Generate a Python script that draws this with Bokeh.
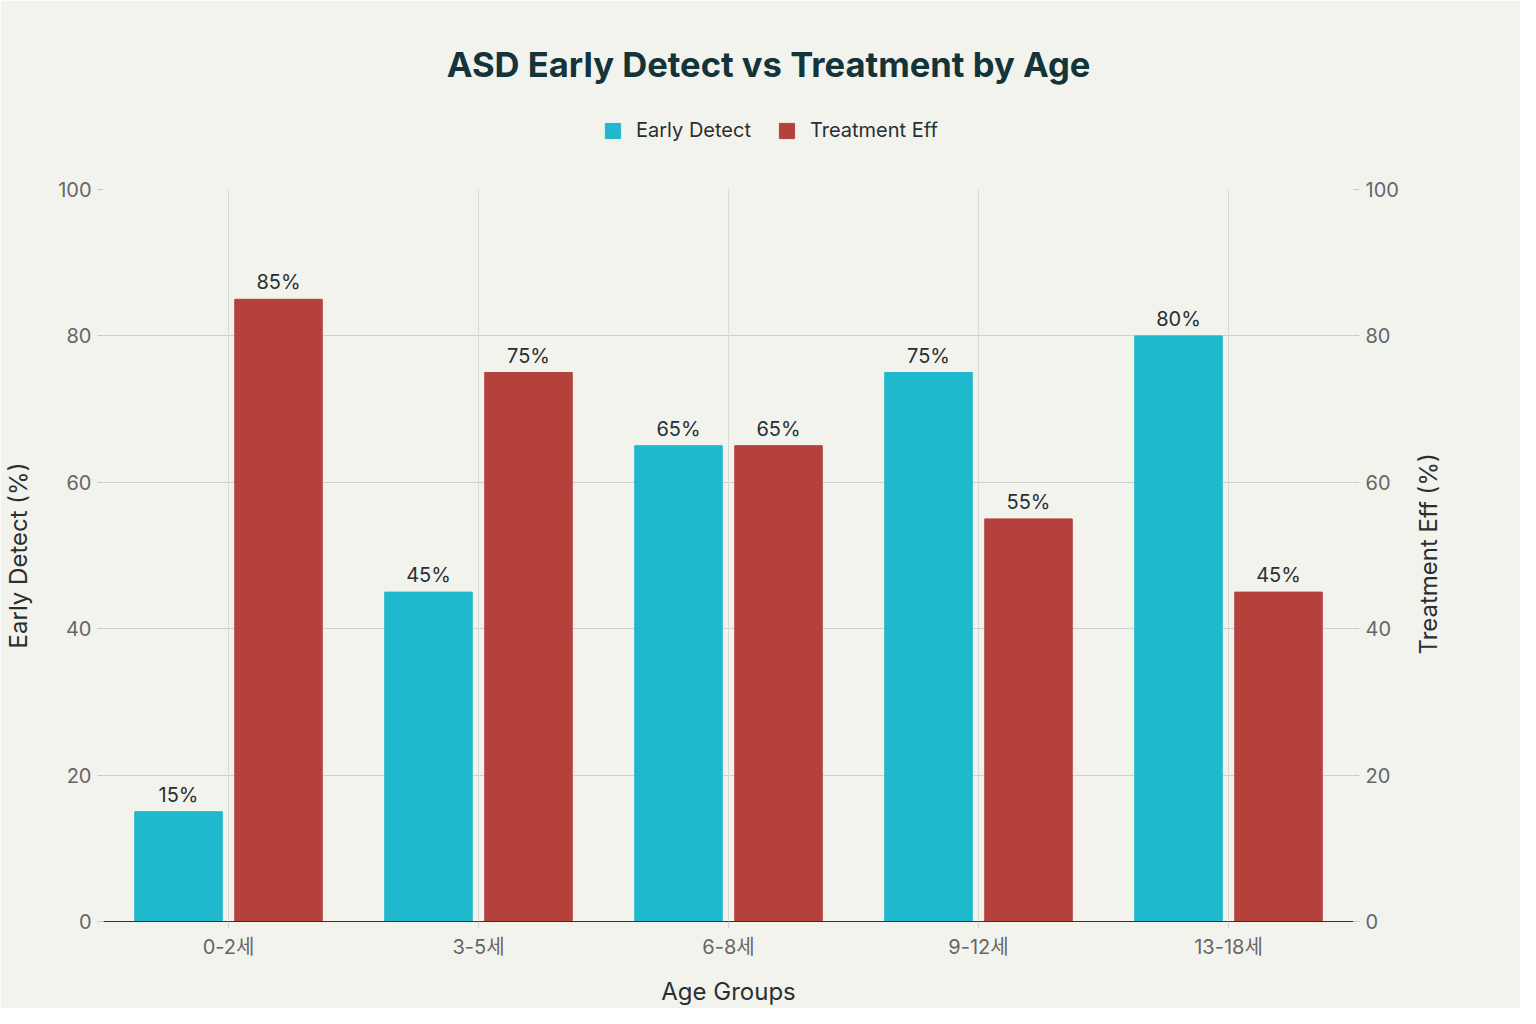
import math
from bokeh.plotting import figure
from bokeh.models import (ColumnDataSource, FactorRange, Range1d, LinearAxis, Legend, LegendItem,
                          Label, FixedTicker)
from bokeh.transform import dodge
from bokeh.core.properties import value
from bokeh.embed import file_html
from bokeh.resources import INLINE

# ---- data ----
age_groups = ["0-2세", "3-5세", "6-8세", "9-12세", "13-18세"]
early_detect = [15, 45, 65, 75, 80]
treatment_eff = [85, 75, 65, 55, 45]
y_ticks = [0, 20, 40, 60, 80, 100]

title_text = "ASD Early Detect vs Treatment by Age"
series_names = ["Early Detect", "Treatment Eff"]
x_title = "Age Groups"
y_left_title = "Early Detect (%)"
y_right_title = "Treatment Eff (%)"

CYAN = "#1FB8CD"
RED = "#B4413C"
BG = "#F3F3EE"
DARK = "#13343B"
TXT = "#2A2F31"
GREY = "#666666"
FONT = "Inter, 'Noto Sans CJK KR'"

# layout geometry (pixels)
FRAME_TOP = 10          # frame extends up to hold title + legend
PLOT_TOP = 189          # where value 100 sits
PLOT_BOTTOM = 921       # where value 0 sits
W, H = 1520, 1008
y_min, y_max = y_ticks[0], y_ticks[-1]
y_mid = (y_min + y_max) / 2
px_per_unit = (PLOT_BOTTOM - PLOT_TOP) / (y_max - y_min)
y_end = y_max * (PLOT_BOTTOM - FRAME_TOP) / (PLOT_BOTTOM - PLOT_TOP)
RIGHT_TITLE_HALF_PX = 99   # half the rendered length of the right title (it is start-anchored)

src = ColumnDataSource(dict(
    age=age_groups,
    ed=early_detect,
    te=treatment_eff,
    ed_lbl=[f"{v}%" for v in early_detect],
    te_lbl=[f"{v}%" for v in treatment_eff],
    g0=[y_min] * len(age_groups),
    g1=[y_max] * len(age_groups),
))

p = figure(
    width=W, height=H,
    x_range=FactorRange(factors=age_groups),
    y_range=Range1d(0, y_end),
    output_backend="svg", toolbar_location=None,
    background_fill_color=BG, border_fill_color=BG,
    min_border_left=103, min_border_right=W - 103 - 1250,
    min_border_top=FRAME_TOP, min_border_bottom=H - PLOT_BOTTOM,
)
p.outline_line_color = None
p.extra_y_ranges = {"right": Range1d(0, y_end)}

# vertical grid lines at categories (0..100 only)
p.segment(x0="age", y0="g0", x1="age", y1="g1", source=src, line_color="#DADADA", line_width=1)

r1 = p.vbar(x=dodge("age", -0.2, range=p.x_range), top="ed", width=0.35, source=src,
            fill_color=CYAN, line_color=CYAN)
r2 = p.vbar(x=dodge("age", 0.2, range=p.x_range), top="te", width=0.35, source=src,
            fill_color=RED, line_color=RED, y_range_name="right")

lbl_kw = dict(text_align="center", text_baseline="bottom", y_offset=-5,
              text_font=value(FONT), text_font_size="20px", text_color=TXT, source=src)
p.text(x=dodge("age", -0.2, range=p.x_range), y="ed", text="ed_lbl", **lbl_kw)
p.text(x=dodge("age", 0.2, range=p.x_range), y="te", text="te_lbl", y_range_name="right", **lbl_kw)

# axes
def style_y(ax):
    ax.ticker = FixedTicker(ticks=y_ticks)
    ax.axis_line_color = None
    ax.major_tick_line_color = "#C8C8C8"
    ax.major_tick_out = 6
    ax.major_tick_in = 0
    ax.minor_tick_line_color = None
    ax.major_label_text_font = FONT
    ax.major_label_text_font_size = "20px"
    ax.major_label_text_color = GREY
    ax.major_label_standoff = 6

def title_axis(ax, text, tick, orientation, standoff):
    # an axis whose single tick label is the axis title
    ax.ticker = FixedTicker(ticks=[tick])
    ax.major_label_overrides = {tick: text}
    ax.axis_line_color = None
    ax.major_tick_line_color = None
    ax.minor_tick_line_color = None
    ax.major_tick_out = 0
    ax.major_tick_in = 0
    ax.major_label_orientation = orientation
    ax.major_label_text_font = FONT
    ax.major_label_text_font_size = "24px"
    ax.major_label_text_color = TXT
    ax.major_label_standoff = standoff

ly = p.yaxis[0]
style_y(ly)

ry = LinearAxis(y_range_name="right")
style_y(ry)
p.add_layout(ry, "right")

lt = LinearAxis()
title_axis(lt, y_left_title, y_mid, "vertical", 23)
p.add_layout(lt, "left")

rt = LinearAxis(y_range_name="right")
title_axis(rt, y_right_title, y_mid - RIGHT_TITLE_HALF_PX / px_per_unit, math.pi / 2, 27)
p.add_layout(rt, "right")

xa = p.xaxis[0]
xa.axis_label = x_title
xa.axis_line_color = "#333333"
xa.axis_line_width = 1
xa.major_tick_line_color = "#D0D0D0"
xa.major_tick_out = 7
xa.major_tick_in = 0
xa.minor_tick_line_color = None
xa.major_label_text_font = FONT
xa.major_label_text_font_size = "20px"
xa.major_label_text_color = GREY
xa.major_label_standoff = 6
xa.axis_label_text_font = FONT
xa.axis_label_text_font_size = "24px"
xa.axis_label_text_font_style = "normal"
xa.axis_label_text_color = TXT
xa.axis_label_standoff = 15

# grids
p.ygrid.ticker = FixedTicker(ticks=[20, 40, 60, 80])
p.ygrid.grid_line_color = "#CFCFCF"
p.ygrid.grid_line_width = 1
p.xgrid.grid_line_color = None

# title
p.add_layout(Label(x=665, y=PLOT_BOTTOM - 63, x_units="screen", y_units="screen", text=title_text,
                   text_align="center", text_baseline="middle", text_font=FONT,
                   text_font_size="34.6px", text_font_style="bold", text_color=DARK))

# legend
legend = Legend(items=[LegendItem(label=series_names[0], renderers=[r1]),
                       LegendItem(label=series_names[1], renderers=[r2])],
                location=(500, PLOT_BOTTOM - 142), orientation="horizontal",
                background_fill_alpha=0, border_line_color=None,
                padding=0, margin=0, spacing=26, label_standoff=14,
                glyph_width=19, glyph_height=19,
                label_text_font=FONT, label_text_font_size="20px", label_text_color=TXT)
p.add_layout(legend, "center")

open("out.html", "w").write(file_html(p, INLINE))
